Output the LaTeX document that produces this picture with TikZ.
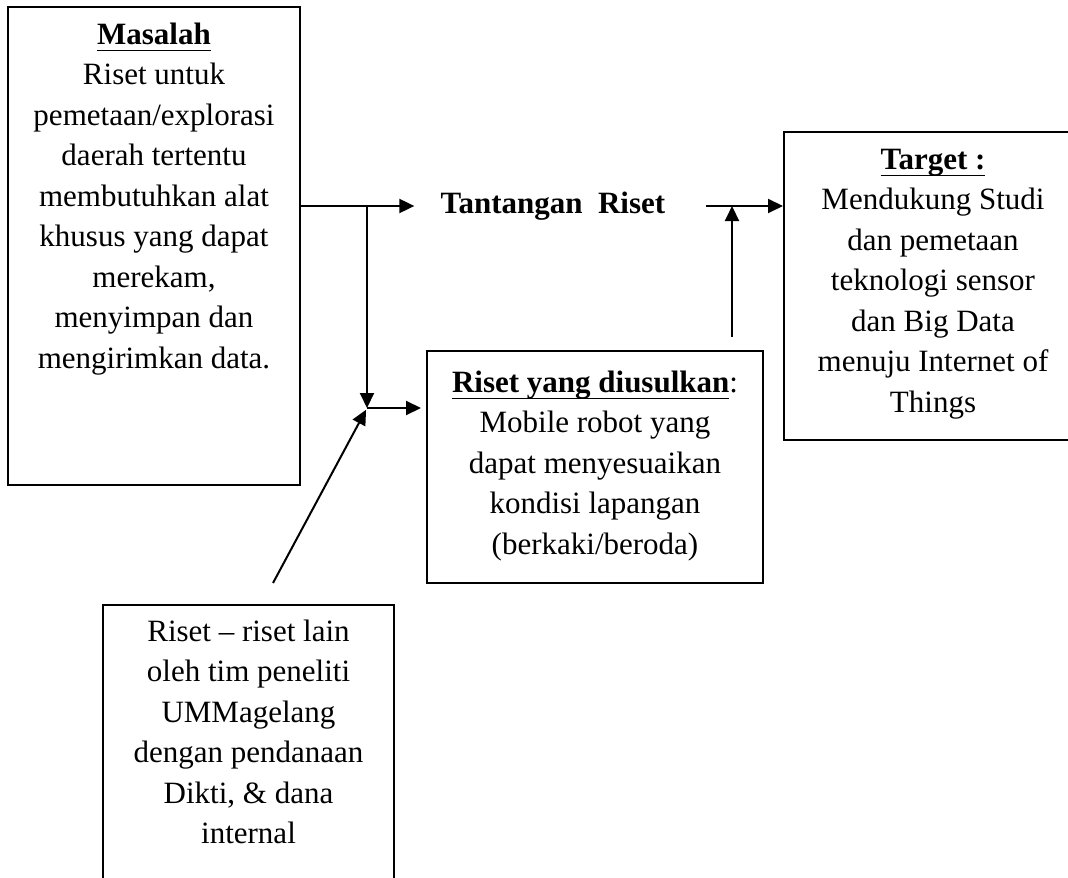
\documentclass[tikz,border=0pt]{standalone}
\usepackage{fontspec}
\setmainfont{Liberation Serif}
\usetikzlibrary{positioning}
\usetikzlibrary{arrows.meta}

\newcommand{\judul}[1]{\underline{\raisebox{0pt}[\height][1.5pt]{\textbf{#1}}}}

\tikzset{
  kotak/.style={draw, line width=1pt, inner sep=0pt},
  isi/.style={inner sep=0pt, align=center, font=\fontsize{15.5}{20.25}\selectfont},
  panah/.style={-{Triangle[length=7.5pt,width=7pt]}, line width=1pt},
}

\begin{document}
\begin{tikzpicture}[x=0.5pt,y=-0.5pt]
            \useasboundingbox (0,0) rectangle (1068,877);
            \clip (0,0) rectangle (1068,877);

            % kotak
            \node [kotak, minimum width=146pt, minimum height=239pt](masalah) at (154,246){};
            \node [kotak, minimum width=168pt, minimum height=116pt](riset) at (595,467){};
            \node [kotak, minimum width=149pt, minimum height=154pt](target) at (933,286){};
            \node [kotak, minimum width=145.5pt, minimum height=147.5pt](lain) at (248.5,752.5){};

            % teks
            \node [isi, below=4.8pt of masalah.north](masalahteks){\strut\judul{Masalah}\\Riset untuk\\pemetaan/explorasi\\daerah tertentu\\membutuhkan alat\\khusus yang dapat\\merekam,\\menyimpan dan\\mengirimkan data.};
            \node [isi, below=6.8pt of riset.north](risetteks){\strut\judul{Riset yang diusulkan}:\\Mobile robot yang\\dapat menyesuaikan\\kondisi lapangan\\(berkaki/beroda)};
            \node [isi, below=4.8pt of target.north](targetteks){\strut\judul{Target :}\\Mendukung Studi\\dan pemetaan\\teknologi sensor\\dan Big Data\\menuju Internet of\\Things};
            \node [isi, below=4.3pt of lain.north](lainteks){\strut Riset -- riset lain\\oleh tim peneliti\\UMMagelang\\dengan pendanaan\\Dikti, \& dana\\internal};
            \node [isi, inner xsep=13pt](tantangan) at (553,206){\textbf{Tantangan\ \ Riset}};

            % titik cabang
            \coordinate (j1) at (367,206);
            \coordinate (j2) at (367,408);
            \coordinate (j3) at (732,206);
            \coordinate (kanan) at (706,206);
            \coordinate (naik) at (732,337);
            \coordinate (miring) at (273,583);

            \draw[panah] (masalah.east |- j1) -- (j1 -| tantangan.west);
            \draw[panah] (j1) -- (j2);
            \draw[panah, shorten >=2.5pt] (j2) -- (j2 -| riset.west);
            \draw[panah, shorten >=1pt] (miring) -- (j2);
            \draw[panah] (kanan) -- (kanan -| target.west);
            \draw[panah] (naik) -- (j3);
        \end{tikzpicture}
\end{document}
